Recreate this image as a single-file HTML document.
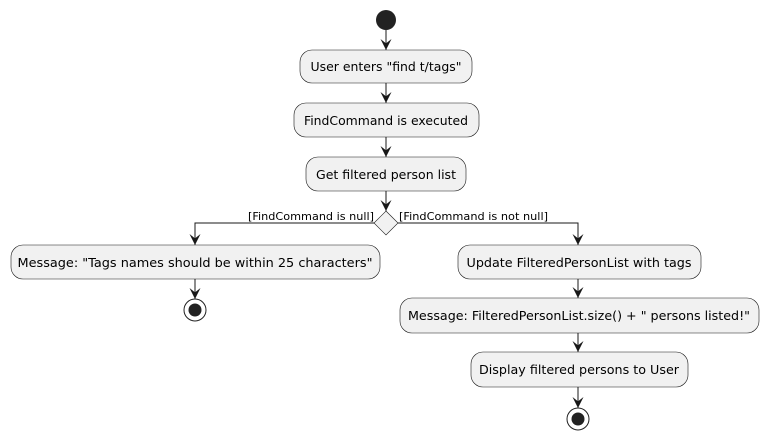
<!DOCTYPE html>
<html><head><style>body{margin:0;background:#fff}svg{display:block}text{font-family:"DejaVu Sans",sans-serif;font-size:12px;fill:#000}</style></head><body>
<svg width="768" height="439" viewBox="0 0 768 439">
<defs><marker id="a" viewBox="0 0 10 10" refX="10" refY="5" markerWidth="11" markerHeight="11" orient="auto" markerUnits="userSpaceOnUse"><path d="M0,0 L10,5 L0,10 L4,5 Z" fill="#181818"/></marker></defs>
<g stroke="#181818" stroke-width="1" fill="none">
<line x1="386" y1="30" x2="386" y2="50" marker-end="url(#a)"/>
<line x1="386" y1="83" x2="386" y2="103" marker-end="url(#a)"/>
<line x1="386" y1="137" x2="386" y2="157" marker-end="url(#a)"/>
<line x1="386" y1="191" x2="386" y2="211" marker-end="url(#a)"/>
<polyline points="375,223 195,223 195,245" marker-end="url(#a)"/>
<polyline points="398,223 578,223 578,245" marker-end="url(#a)"/>
<line x1="195" y1="279" x2="195" y2="299" marker-end="url(#a)"/>
<line x1="578" y1="279" x2="578" y2="298" marker-end="url(#a)"/>
<line x1="578" y1="333" x2="578" y2="352" marker-end="url(#a)"/>
<line x1="578" y1="387" x2="578" y2="408" marker-end="url(#a)"/>
</g>
<circle cx="386" cy="20" r="10" fill="#222"/>
<g fill="#f1f1f1" stroke="#181818" stroke-width="0.6">
<rect x="300" y="50" width="172" height="33" rx="12"/>
<rect x="294" y="103" width="185" height="34" rx="12"/>
<rect x="306" y="157" width="160" height="34" rx="12"/>
<polygon points="386,211 398,223 386,235 374,223"/>
<rect x="11" y="245" width="369" height="34" rx="12"/>
<rect x="458" y="245" width="243" height="34" rx="12"/>
<rect x="400" y="298" width="359" height="35" rx="12"/>
<rect x="471" y="352" width="217" height="35" rx="12"/>
</g>
<circle cx="195" cy="310" r="11" fill="#fff" stroke="#222" stroke-width="1"/><circle cx="195" cy="310" r="6.5" fill="#222"/>
<circle cx="578" cy="419" r="11" fill="#fff" stroke="#222" stroke-width="1"/><circle cx="578" cy="419" r="6.5" fill="#222"/>
<g text-anchor="middle">
<text x="386" y="71" textLength="151" lengthAdjust="spacingAndGlyphs">User enters "find t/tags"</text>
<text x="386" y="125" textLength="164" lengthAdjust="spacingAndGlyphs">FindCommand is executed</text>
<text x="386" y="179" textLength="140" lengthAdjust="spacingAndGlyphs">Get filtered person list</text>
<text x="195" y="267" textLength="355" lengthAdjust="spacingAndGlyphs">Message: "Tags names should be within 25 characters"</text>
<text x="579" y="267" textLength="225" lengthAdjust="spacingAndGlyphs">Update FilteredPersonList with tags</text>
<text x="579" y="320" textLength="342" lengthAdjust="spacingAndGlyphs">Message: FilteredPersonList.size() + " persons listed!"</text>
<text x="579" y="374" textLength="200" lengthAdjust="spacingAndGlyphs">Display filtered persons to User</text>
</g>
<text x="374" y="220" text-anchor="end" style="font-size:11px" textLength="126" lengthAdjust="spacingAndGlyphs">[FindCommand is null]</text>
<text x="399" y="220" style="font-size:11px" textLength="149" lengthAdjust="spacingAndGlyphs">[FindCommand is not null]</text>
</svg>
</body></html>
